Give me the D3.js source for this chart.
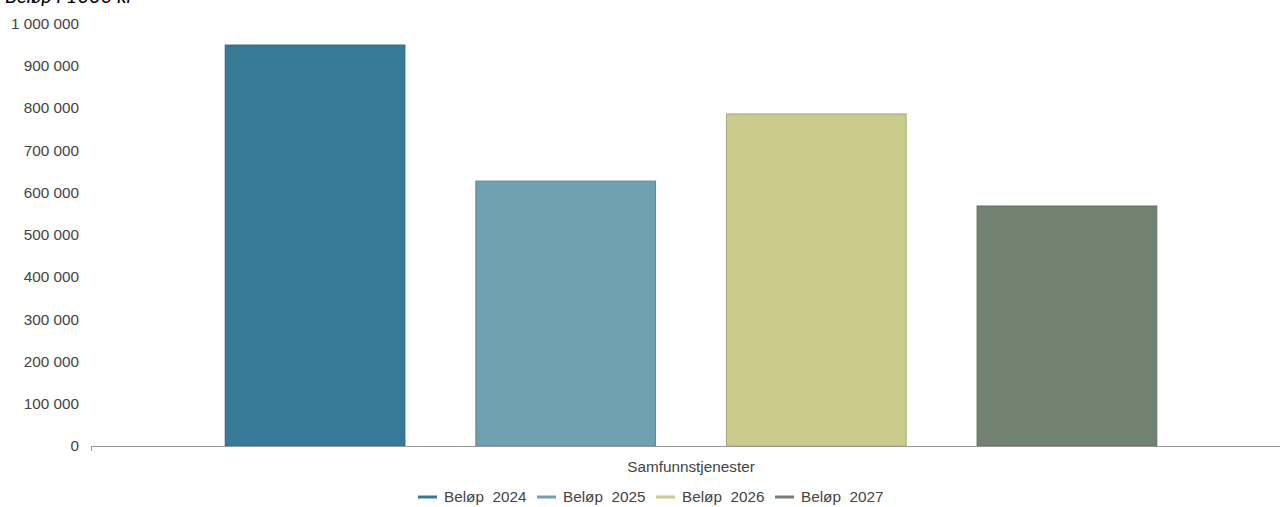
<!DOCTYPE html>
<html>
<head>
<meta charset="utf-8">
<script src="https://cdn.jsdelivr.net/npm/d3@7"></script>
<style>
  body { margin: 0; background: #fff; }
  text { font-family: "Liberation Sans", Arial, sans-serif; fill: #444; }
</style>
</head>
<body>
<svg id="chart" width="1280" height="507"></svg>
<script>
let categories = ["Samfunnstjenester"]
let series = ["Beløp  2024", "Beløp  2025", "Beløp  2026", "Beløp  2027"]
let values = [949000, 627000, 786000, 568000]
let colors = ["#377a98", "#70a1b3", "#cbcb8c", "#728270"]
let yTicks = [0, 100000, 200000, 300000, 400000, 500000, 600000, 700000, 800000, 900000, 1000000]

let margin = {top: 23.5, bottom: 61, left: 91, right: -11}
let width = 1280
let height = 507
let fontSize = "15.3px"

let svg = d3.select("#chart")
let w = width - (margin.left + margin.right)
let h = height - (margin.top + margin.bottom)

let x0 = d3.scaleBand().domain(categories).range([0, w]).paddingInner(0).paddingOuter(0.0985)
let x1 = d3.scaleBand().domain(series).range([0, x0.bandwidth()]).paddingInner(0.283).paddingOuter(0.1415)
let yScale = d3.scaleLinear().domain([0, 1000000]).range([h, 0])
let fmt = v => d3.format(",")(v).replace(/,/g, " ")

let plot = svg.append("g")
    .attr("transform", "translate(" + margin.left + "," + margin.top + ")")

// y tick labels, no axis line
let yAxis = plot.append("g")
    .call(d3.axisLeft(yScale).tickValues(yTicks).tickSize(0).tickPadding(12).tickFormat(fmt))
yAxis.select(".domain").remove()
yAxis.selectAll("text")
    .style("font-size", fontSize)
    .style("fill", "#444")
    .style("font-family", "Liberation Sans, Arial, sans-serif")

// bars
let bars = plot.append("g").selectAll("g")
    .data(categories)
    .enter()
    .append("g")
    .attr("transform", d => "translate(" + x0(d) + ",0)")

bars.selectAll("rect")
    .data(series.map((s, i) => ({key: s, value: values[i], color: colors[i]})))
    .enter()
    .append("rect")
    .attr("x", d => x1(d.key))
    .attr("y", d => yScale(d.value))
    .attr("width", x1.bandwidth())
    .attr("height", d => yScale(0) - yScale(d.value))
    .style("fill", d => d.color)
    .style("stroke", d => d3.color(d.color).darker(0.5))
    .style("stroke-width", 1)

// x axis line
plot.append("line")
    .attr("x1", 0).attr("x2", w)
    .attr("y1", yScale(0) + 0.5).attr("y2", yScale(0) + 0.5)
    .style("stroke", "#999")
plot.append("line")
    .attr("x1", 0.5).attr("x2", 0.5)
    .attr("y1", yScale(0)).attr("y2", yScale(0) + 5)
    .style("stroke", "#999")

plot.selectAll(".xlabel")
    .data(categories)
    .enter()
    .append("text")
    .attr("class", "xlabel")
    .style("text-anchor", "middle")
    .style("font-size", fontSize)
    .attr("x", d => x0(d) + x0.bandwidth() / 2)
    .attr("y", yScale(0) + 26)
    .text(d => d)

// legend
let legend = svg.append("g").attr("transform", "translate(418,497)")
let item = legend.selectAll("g")
    .data(series)
    .enter()
    .append("g")
    .attr("transform", (d, i) => "translate(" + (i * 119) + ",0)")
item.append("line")
    .attr("x1", 0).attr("x2", 19)
    .attr("y1", 0).attr("y2", 0)
    .style("stroke", (d, i) => colors[i])
    .style("stroke-width", 3)
item.append("text")
    .attr("x", 26)
    .attr("y", 5)
    .style("font-size", fontSize)
    .style("white-space", "pre")
    .text(d => d)

// title, cut at the top edge as in the original
svg.append("text")
    .attr("x", 5)
    .attr("y", 3)
    .style("font-family", "Lato, 'Open Sans', sans-serif")
    .style("font-style", "italic")
    .style("font-size", "20px")
    .style("fill", "#000")
    .text("Beløp i 1000 kr")
</script>
</body>
</html>
